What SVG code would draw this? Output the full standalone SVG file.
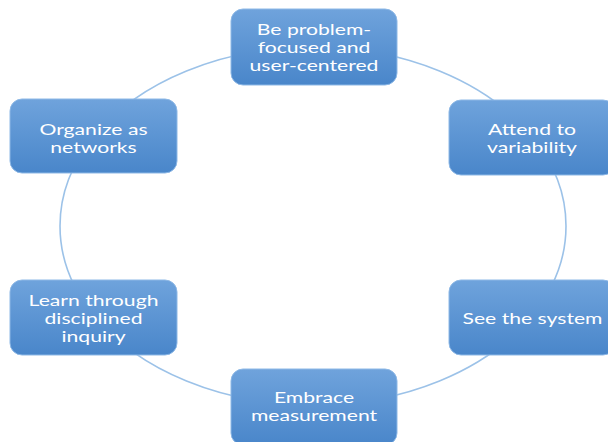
<svg xmlns="http://www.w3.org/2000/svg" width="608" height="442" viewBox="0 0 608 442">
<defs>
<linearGradient id="g" x1="0" y1="0" x2="0" y2="1">
<stop offset="0" stop-color="#6fa3dc"/>
<stop offset="1" stop-color="#4986ca"/>
</linearGradient>
<style>
.arc{fill:none;stroke:#9cc2e8;stroke-width:1.6}
.box{fill:url(#g);stroke:#8db8e6;stroke-width:1}
.t{font-family:Lato,"Open Sans",sans-serif;font-size:15px;fill:#ffffff;text-anchor:middle}
</style>
</defs>
<rect width="608" height="442" fill="#ffffff"/>
<g id="connectors">
<path class="arc" d="M313 47 A253 179 0 0 1 532.1 136.5"/>
<path class="arc" d="M532.1 136.5 A253 179 0 0 1 532.1 315.5"/>
<path class="arc" d="M532.1 315.5 A253 179 0 0 1 313 405"/>
<path class="arc" d="M313 405 A253 179 0 0 1 93.9 315.5"/>
<path class="arc" d="M93.9 315.5 A253 179 0 0 1 93.9 136.5"/>
<path class="arc" d="M93.9 136.5 A253 179 0 0 1 313 47"/>
</g>
<g id="n1">
<rect class="box" x="231" y="9" width="166" height="76" rx="12"/>
<g transform="translate(314,0) scale(1.41,1)">
<text class="t" x="0" y="35">Be problem-<tspan x="0" dy="18">focused and</tspan><tspan x="0" dy="18">user-centered</tspan></text>
</g>
</g>
<g id="n2">
<rect class="box" x="449" y="100" width="166" height="75" rx="12"/>
<g transform="translate(532,0) scale(1.41,1)">
<text class="t" x="0" y="135">Attend to<tspan x="0" dy="18">variability</tspan></text>
</g>
</g>
<g id="n3">
<rect class="box" x="449" y="280" width="166" height="75" rx="12"/>
<g transform="translate(532.5,0) scale(1.41,1)">
<text class="t" x="0" y="324">See the system</text>
</g>
</g>
<g id="n4">
<rect class="box" x="231" y="369" width="166" height="76" rx="12"/>
<g transform="translate(314,0) scale(1.41,1)">
<text class="t" x="0" y="403">Embrace<tspan x="0" dy="18">measurement</tspan></text>
</g>
</g>
<g id="n5">
<rect class="box" x="10" y="280" width="167" height="75" rx="12"/>
<g transform="translate(93.5,0) scale(1.41,1)">
<text class="t" x="0" y="306">Learn through<tspan x="0" dy="18">disciplined</tspan><tspan x="0" dy="18">inquiry</tspan></text>
</g>
</g>
<g id="n6">
<rect class="box" x="10" y="99" width="167" height="74" rx="12"/>
<g transform="translate(93.5,0) scale(1.41,1)">
<text class="t" x="0" y="135">Organize as<tspan x="0" dy="18">networks</tspan></text>
</g>
</g>
</svg>
